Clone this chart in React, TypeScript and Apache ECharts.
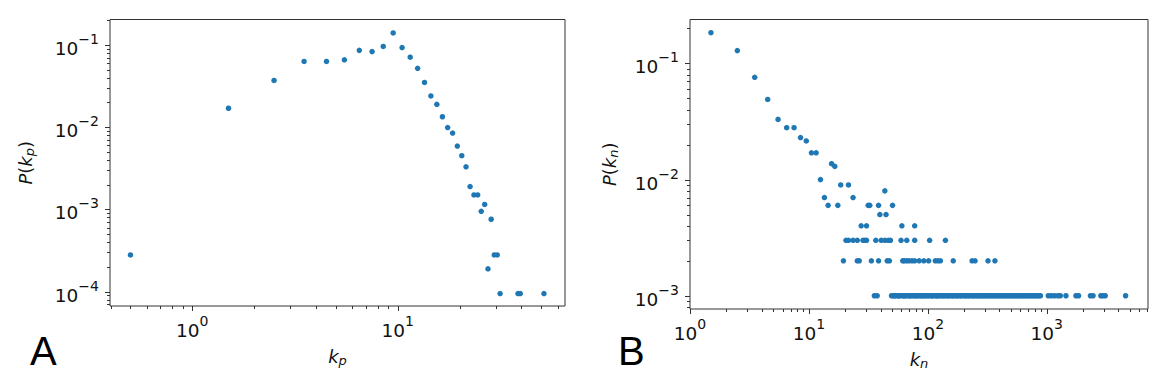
import React, { useEffect, useRef } from 'react';
import * as echarts from 'echarts';

// ---- Panel A data: P(k_p) vs k_p ----
const kp = [0.5, 1.5, 2.5, 3.5, 4.5, 5.5, 6.5, 7.5, 8.5, 9.5, 10.5, 11.5, 12.5, 13.5, 14.5, 15.5, 16.5, 17.5, 18.5, 19.5, 20.5, 21.5, 22.5, 23.5, 24.5, 25.5, 26.5, 27.5, 28.5, 29.5, 30.5, 31.5, 38.5, 39.5, 51.5];
const pkp = [0.00028, 0.017, 0.037, 0.063, 0.063, 0.066, 0.086, 0.083, 0.096, 0.14, 0.093, 0.071, 0.052, 0.035, 0.024, 0.019, 0.0134, 0.0099, 0.0085, 0.0059, 0.0045, 0.0033, 0.0019, 0.0015, 0.0015, 0.00095, 0.00115, 0.00019, 0.00076, 0.00028, 0.00028, 0.000095, 0.000095, 0.000095, 0.000095];

// ---- Panel B data: P(k_n) vs k_n ----
const knHead = [1.5, 2.5, 3.5, 4.5, 5.5, 6.5, 7.5, 8.5, 9.5, 10.5, 11.5, 12.5, 13.5, 14.5, 15.5, 16.5, 17.5, 18.5, 21.5, 23.5, 31.5, 32.5, 38.5, 43.5, 39.5, 44.5, 50.5, 27.5, 30.5, 60.5, 77.5];
const pnHead = [0.184, 0.129, 0.076, 0.049, 0.033, 0.028, 0.028, 0.023, 0.0215, 0.017, 0.017, 0.01, 0.007, 0.006, 0.0137, 0.013, 0.006, 0.009, 0.009, 0.007, 0.006, 0.006, 0.006, 0.008, 0.005, 0.005, 0.006, 0.004, 0.004, 0.004, 0.004];
const level003 = 0.003;
const kn003 = [20.5, 21.5, 23.5, 25.5, 28.5, 29.5, 30.5, 36.5, 40.5, 43.5, 46.5, 48.5, 59.5, 66.5, 77.5, 103.5, 140.5];
const level002 = 0.002;
const kn002 = [19.5, 25.5, 26.5, 33.5, 38.5, 45.5, 47.5, 61.5, 63.5, 66.5, 69.5, 73.5, 77.5, 84.5, 92.5, 101.5, 115.5, 121.5, 127.5, 163.5, 235.5, 249.5, 320.5, 366.5];
const level001 = 0.001;
const kn001 = [35.5, 37.5, 49.5, 51.5, 52.5, 54.5, 56.5, 57.5, 58.5, 61.5, 62.5, 64.5, 65.5, 68.5, 70.5, 71.5, 74.5, 76.5, 79.5, 80.5, 83.5, 86.5, 88.5, 91.5, 93.5, 96.5, 99.5, 102.5, 106.5, 108.5, 111.5, 116.5, 118.5, 122.5, 124.5, 129.5, 133.5, 136.5, 141.5, 146.5, 149.5, 155.5, 160.5, 163.5, 169.5, 175.5, 179.5, 186.5, 190.5, 197.5, 204.5, 209.5, 216.5, 221.5, 229.5, 237.5, 242.5, 251.5, 258.5, 266.5, 275.5, 281.5, 292.5, 299.5, 309.5, 318.5, 329.5, 337.5, 349.5, 358.5, 371.5, 382.5, 392.5, 406.5, 417.5, 432.5, 445.5, 457.5, 473.5, 488.5, 501.5, 519.5, 533.5, 552.5, 567.5, 587.5, 604.5, 626.5, 643.5, 667.5, 685.5, 710.5, 731.5, 756.5, 778.5, 806.5, 831.5, 858.5, 884.5, 1030, 1090, 1160, 1240, 1300, 1450, 1760, 1850, 2330, 2450, 2850, 2950, 3100, 4600];

// axis ranges
const axA = { xMin: 0.3975, xMax: 65.2, yMin: 0.000067, yMax: 0.204 };
const axB = { xMin: 1, xMax: 7100, yMin: 0.000769, yMax: 0.239 };

const BLUE = '#1f77b4';
const INK = '#111111';
const FRAME = '#333333';

function logTicks(min: number, max: number) {
  const out: number[][] = [];
  const lo = Math.floor(Math.log10(min));
  const hi = Math.ceil(Math.log10(max));
  for (let n = lo; n <= hi; n++) {
    for (let m = 1; m <= 9; m++) {
      const v = m * Math.pow(10, n);
      if (v >= min * (1 - 1e-9) && v <= max * (1 + 1e-9)) out.push([v, m === 1 ? 1 : 0]);
    }
  }
  return out;
}

const supLabel = (v: number) => {
  const e = Math.log10(v);
  const r = Math.round(e);
  if (Math.abs(e - r) > 1e-6) return '';
  const exp = r < 0 ? '\u2212' + -r : String(r);
  return `{b|10}{s|${exp}}`;
};

const labelRich = {
  b: { fontFamily: 'DejaVu Sans', fontSize: 18.5, lineHeight: 26, verticalAlign: 'bottom', color: INK },
  s: { fontFamily: 'DejaVu Sans', fontSize: 14, lineHeight: 14, verticalAlign: 'top', color: INK },
};

const nameRich = {
  i: { fontFamily: 'DejaVu Sans', fontStyle: 'italic', fontSize: 18, lineHeight: 22, color: INK },
  r: { fontFamily: 'DejaVu Sans', fontSize: 18, lineHeight: 22, color: INK },
  sub: { fontFamily: 'DejaVu Sans', fontStyle: 'italic', fontSize: 13, lineHeight: 12, verticalAlign: 'bottom', color: INK },
};

function xAxisCfg(gridIndex: number, ax: any, name: string) {
  return {
    type: 'log', logBase: 10, gridIndex, min: ax.xMin, max: ax.xMax,
    name, nameLocation: 'middle', nameGap: 39,
    nameTextStyle: { rich: nameRich },
    axisLine: { show: false }, axisTick: { show: false }, splitLine: { show: false },
    axisLabel: { margin: 8, formatter: supLabel, rich: labelRich },
  };
}
function yAxisCfg(gridIndex: number, ax: any, name: string, gap: number) {
  return {
    type: 'log', logBase: 10, gridIndex, min: ax.yMin, max: ax.yMax,
    name, nameLocation: 'middle', nameGap: gap,
    nameTextStyle: { rich: nameRich },
    axisLine: { show: false }, axisTick: { show: false }, splitLine: { show: false },
    axisLabel: { margin: 11, formatter: supLabel, rich: labelRich },
  };
}

function tickSeries(idx: number, ax: any) {
  const xData = logTicks(ax.xMin, ax.xMax).map(([v, maj]) => [v, ax.yMin, maj]);
  const yData = logTicks(ax.yMin, ax.yMax).map(([v, maj]) => [ax.xMin, v, maj]);
  return [
    {
      type: 'custom', xAxisIndex: idx, yAxisIndex: idx, silent: true, clip: false, z: 5,
      data: xData, encode: { x: 0, y: 1 },
      renderItem: (_p: any, api: any) => {
        const pt = api.coord([api.value(0), api.value(1)]);
        const len = api.value(2) ? 5 : 3;
        const x = Math.round(pt[0]) + 0.5;
        return { type: 'line', shape: { x1: x, y1: pt[1], x2: x, y2: pt[1] + len }, style: { stroke: FRAME, lineWidth: 1 } };
      },
    },
    {
      type: 'custom', xAxisIndex: idx, yAxisIndex: idx, silent: true, clip: false, z: 5,
      data: yData, encode: { x: 0, y: 1 },
      renderItem: (_p: any, api: any) => {
        const pt = api.coord([api.value(0), api.value(1)]);
        const len = api.value(2) ? 5 : 3;
        const y = Math.round(pt[1]) + 0.5;
        return { type: 'line', shape: { x1: pt[0], y1: y, x2: pt[0] - len, y2: y }, style: { stroke: FRAME, lineWidth: 1 } };
      },
    },
  ];
}

export default function App() {
  const ref = useRef<HTMLDivElement>(null);
  useEffect(() => {
    if (!ref.current) return;
    const chart = echarts.init(ref.current, undefined, { renderer: 'svg' });

    const dataA = kp.map((k, i) => [k, pkp[i]]);
    const dataB = [
      ...knHead.map((k, i) => [k, pnHead[i]]),
      ...kn003.map((k) => [k, level003]),
      ...kn002.map((k) => [k, level002]),
      ...kn001.map((k) => [k, level001]),
    ];

    const gridStyle = { show: true, borderColor: FRAME, borderWidth: 1, backgroundColor: 'transparent' };

    chart.setOption({
      animation: false,
      backgroundColor: '#ffffff',
      grid: [
        { left: 110, top: 19.5, width: 455, height: 286.5, ...gridStyle },
        { left: 690, top: 19.5, width: 458, height: 289.5, ...gridStyle },
      ],
      xAxis: [
        xAxisCfg(0, axA, '{i|k}{sub|p}'),
        xAxisCfg(1, axB, '{i|k}{sub|n}'),
      ],
      yAxis: [
        yAxisCfg(0, axA, '{i|P}{r|(}{i|k}{sub|p}{r|)}', 74),
        yAxisCfg(1, axB, '{i|P}{r|(}{i|k}{sub|n}{r|)}', 70),
      ],
      series: [
        {
          type: 'scatter', xAxisIndex: 0, yAxisIndex: 0, data: dataA,
          symbol: 'circle', symbolSize: 5.5, itemStyle: { color: BLUE, opacity: 1 }, z: 3,
        },
        {
          type: 'scatter', xAxisIndex: 1, yAxisIndex: 1, data: dataB,
          symbol: 'circle', symbolSize: 5.5, itemStyle: { color: BLUE, opacity: 1 }, z: 3,
        },
        ...tickSeries(0, axA),
        ...tickSeries(1, axB),
      ],
      graphic: [
        { type: 'text', left: 30, top: 331, style: { text: 'A', fontFamily: 'Liberation Sans', fontSize: 40, fill: '#000' } },
        { type: 'text', left: 618, top: 331, style: { text: 'B', fontFamily: 'Liberation Sans', fontSize: 40, fill: '#000' } },
      ],
    });
    return () => chart.dispose();
  }, []);
  return <div ref={ref} style={{ position: 'fixed', left: 0, top: 0, width: 1167, height: 389 }} />;
}
